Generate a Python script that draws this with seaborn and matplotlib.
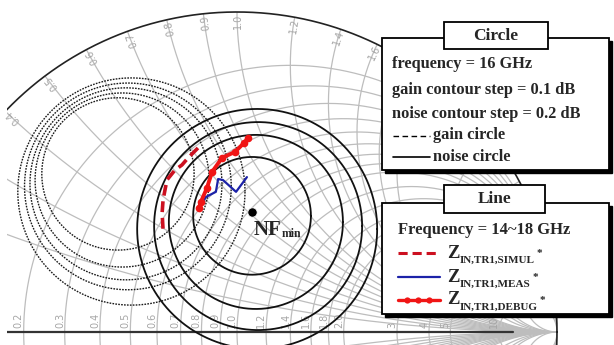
import numpy as np
import pandas as pd
import seaborn as sns
import matplotlib.pyplot as plt
from matplotlib.patches import Circle, Rectangle

# ---- data (reflection coefficient plane) ----
# noise circles: centre re, centre im, radius
noise_re = [0.047, 0.059, 0.066, 0.063]
noise_im = [0.363, 0.344, 0.331, 0.322]
noise_rad = [0.184, 0.272, 0.325, 0.375]

# gain circles
gain_re = [-0.372, -0.359, -0.347, -0.341, -0.330]
gain_im = [0.494, 0.475, 0.463, 0.455, 0.439]
gain_rad = [0.238, 0.272, 0.300, 0.323, 0.355]

# Z_IN traces, 14~18 GHz
simul_re = [-0.122, -0.153, -0.172, -0.194, -0.219, -0.231, -0.234, -0.231]
simul_im = [0.575, 0.544, 0.522, 0.506, 0.475, 0.413, 0.372, 0.319]
meas_re = [-0.119, -0.097, -0.066, -0.059, -0.044, -0.003, 0.031]
meas_im = [0.388, 0.422, 0.438, 0.478, 0.475, 0.438, 0.484]
debug_re = [0.034, 0.022, -0.006, -0.047, -0.078, -0.094, -0.113, -0.119]
debug_im = [0.606, 0.591, 0.563, 0.544, 0.500, 0.450, 0.406, 0.388]

nfmin_re, nfmin_im = 0.047, 0.375

# smith chart grid values and labels
r_vals = [0.2, 0.3, 0.4, 0.5, 0.6, 0.7, 0.8, 0.9, 1.0, 1.2, 1.4, 1.6, 1.8, 2.0, 3, 4, 5, 10]
x_vals = [0.2, 0.3, 0.4, 0.5, 0.6, 0.7, 0.8, 0.9, 1.0, 1.2, 1.4, 1.6, 1.8, 2.0, 3, 4, 5, 10]
r_labels = ['0.2', '0.3', '0.4', '0.5', '0.6', '0.7', '0.8', '0.9', '1.0', '1.2', '1.4', '1.6',
            '1.8', '2.0', '3', '4', '5', '10']
x_labels = ['0.4', '0.5', '0.6', '0.7', '0.8', '0.9', '1.0', '1.2', '1.4', '1.6']

GRID = '#bdbdbd'
LABEL = '#a6a6a6'
SIMUL_C = '#cc1020'
MEAS_C = '#1c22a8'
DEBUG_C = '#f01515'

sns.set_style('white')
plt.rcParams['font.family'] = ['Liberation Serif', 'DejaVu Serif']

W, H = 614, 345
CX, CY, R = 237.0, 332.0, 320.0   # where the chart sits in the picture (px)

fig = plt.figure(figsize=(W / 100, H / 100), dpi=100)
ax = fig.add_axes([7 / W, 0, (W - 7) / W, 1])
ax.set_xlim((7 - CX) / R, (W - CX) / R)
ax.set_ylim((CY - H) / R, CY / R)
ax.axis('off')

clip = Circle((0, 0), 1, transform=ax.transData)
t = np.linspace(0, 2 * np.pi, 4001)
for r in r_vals:
    c, rad = r / (1 + r), 1 / (1 + r)
    ln, = ax.plot(c + rad * np.cos(t), rad * np.sin(t), color=GRID, lw=0.9, zorder=1)
    ln.set_clip_path(clip)
for x in x_vals:
    rad = 1 / x
    for s in (1, -1):
        ln, = ax.plot(1 + rad * np.cos(t), s * rad + rad * np.sin(t), color=GRID, lw=0.9, zorder=1)
        ln.set_clip_path(clip)

# outer circle and real axis
ax.plot(np.cos(t), np.sin(t), color='#222222', lw=1.2, zorder=2)
ax.plot([-1, (513 - CX) / R], [0, 0], color='#333333', lw=1.6, zorder=2)

# labels on the real axis and on the rim
for lab in r_labels:
    r = float(lab)
    g = (r - 1) / (r + 1)
    ax.text(g - 0.015, 0.012, lab, rotation=90, ha='center', va='bottom',
            fontsize=7, color=LABEL, family='DejaVu Sans', zorder=2)
for lab in x_labels:
    th = np.pi - 2 * np.arctan(float(lab))
    ax.text(0.972 * np.cos(th - 0.004), 0.972 * np.sin(th - 0.004), lab,
            rotation=np.degrees(th), ha='center', va='center',
            fontsize=7, color=LABEL, family='DejaVu Sans', zorder=2)

# gain and noise circles
for cr, ci, rr in zip(gain_re, gain_im, gain_rad):
    ax.plot(cr + rr * np.cos(t), ci + rr * np.sin(t), color='#1a1a1a', lw=1.0,
            ls=(0, (1.2, 0.9)), zorder=3)
for cr, ci, rr in zip(noise_re, noise_im, noise_rad):
    ax.plot(cr + rr * np.cos(t), ci + rr * np.sin(t), color='#111111', lw=1.3, zorder=3)

# traces
sns.lineplot(x=simul_re, y=simul_im, sort=False, estimator=None, ax=ax, color=SIMUL_C,
             lw=2.6, linestyle=(0, (3, 1.6)), zorder=5)
sns.lineplot(x=meas_re, y=meas_im, sort=False, estimator=None, ax=ax, color=MEAS_C,
             lw=1.6, zorder=5)
sns.lineplot(x=debug_re, y=debug_im, sort=False, estimator=None, ax=ax, color=DEBUG_C,
             lw=2.8, marker='o', markersize=5.5, markeredgewidth=0, zorder=5)
sns.scatterplot(x=[nfmin_re], y=[nfmin_im], ax=ax, color='black', s=45, zorder=6)
ax.set_xlim((7 - CX) / R, (W - CX) / R)
ax.set_ylim((CY - H) / R, CY / R)

nf = ax.text(nfmin_re + 0.004, nfmin_im - 0.055, 'NF', fontsize=15, fontweight='bold',
             va='center', ha='left', zorder=6)
ax.annotate('min', xy=(1, 0), xycoords=nf, xytext=(0.3, -0.5), textcoords='offset points',
            fontsize=8.5, fontweight='bold', va='bottom', ha='left', zorder=6)

# ---- legend boxes, drawn in picture pixels ----
lg = fig.add_axes([0, 0, 1, 1])
lg.set_xlim(0, W)
lg.set_ylim(H, 0)
lg.axis('off')


def box(x0, y0, x1, y1, shadow=True):
    if shadow:
        lg.add_patch(Rectangle((x0 + 3, y0 + 3), x1 - x0, y1 - y0, color='black', zorder=1))
    lg.add_patch(Rectangle((x0, y0), x1 - x0, y1 - y0, facecolor='white',
                           edgecolor='black', lw=1.3, zorder=2))


box(382, 38, 609, 170)
box(444, 22, 548, 49, shadow=False)
lg.text(496, 36, 'Circle', fontsize=12.5, fontweight='bold', ha='center', va='center', zorder=3)

bold = dict(fontsize=11.8, fontweight='bold', va='center', ha='left', zorder=3)
lg.text(392, 64, 'frequency = 16 GHz', **bold)
lg.text(392, 90, 'gain contour step = 0.1 dB', **bold)
lg.text(392, 114, 'noise contour step = 0.2 dB', **bold)
lg.plot([393, 430], [136, 136], color='black', lw=1.0, ls=(0, (4, 2.5)), zorder=3)
lg.text(433, 135, 'gain circle', **bold)
lg.plot([393, 430], [157, 157], color='black', lw=1.2, zorder=3)
lg.text(433, 157, 'noise circle', **bold)

box(382, 203, 609, 314)
box(444, 185, 545, 213, shadow=False)
lg.text(495, 199, 'Line', fontsize=12.5, fontweight='bold', ha='center', va='center', zorder=3)
lg.text(398, 230, 'Frequency = 14~18 GHz', fontsize=12, fontweight='bold', va='center',
        ha='left', zorder=3)

entries = [('IN,TR1,SIMUL', 253, dict(color=SIMUL_C, lw=2.2, ls=(0, (3, 1.6)))),
           ('IN,TR1,MEAS', 277, dict(color=MEAS_C, lw=1.6)),
           ('IN,TR1,DEBUG', 300, dict(color=DEBUG_C, lw=2.4, marker='o', ms=4.5, mew=0,
                                      markevery=[1, 2, 3]))]
for sub, yy, style in entries:
    if 'marker' in style:
        lg.plot([398, 407, 418, 429, 440], [yy] * 5, zorder=3, **style)
    else:
        lg.plot([398, 440], [yy, yy], zorder=3, **style)
    z = lg.text(447, yy, 'Z', fontsize=13.5, fontweight='bold', va='center', ha='left', zorder=3)
    s = lg.annotate(sub, xy=(1, 0), xycoords=z, xytext=(0.3, -2.5), textcoords='offset points',
                    fontsize=8, fontweight='bold', va='bottom', ha='left', zorder=3)
    lg.annotate('*', xy=(1, 1), xycoords=s, xytext=(1, 2), textcoords='offset points',
                fontsize=8, fontweight='bold', va='center', ha='left', zorder=3)

fig.savefig('out.png', dpi=100)
